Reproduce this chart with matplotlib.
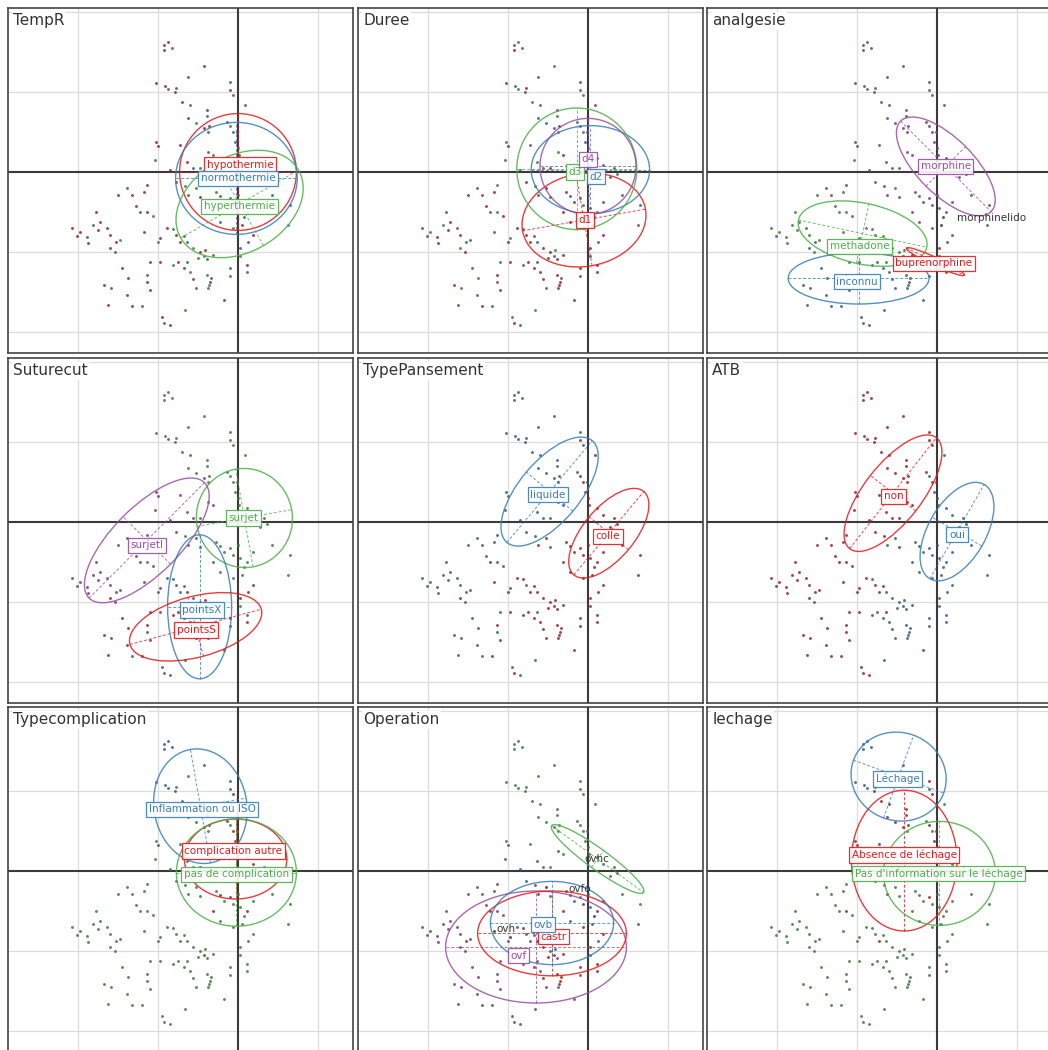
import numpy as np
import matplotlib
matplotlib.use("Agg")
import matplotlib.pyplot as plt
from matplotlib.patches import Ellipse

# Individuals on the first factorial plane (same cloud in every panel), grouped in clumps
clump_x = [
    [-0.93, -0.87, -0.83, -0.93],
    [-0.43, -0.62],
    [-1.02, -0.91, -0.87, -0.79, -0.77],
    [-0.10, -0.10, -0.06],
    [-0.70, -0.60, -0.62],
    [-0.39, -0.39, -0.52, -0.43, -0.38, -0.36],
    [-0.14, -0.10, -0.06, -0.01, 0.09],
    [-1.02, -1.00, -1.04],
    [-0.72, -0.37, -0.31],
    [-0.04, 0.00, 0.01],
    [-0.64, -0.56, -0.48, -0.85],
    [0.11, 0.19, 0.32, 0.36, 0.28],
    [-0.77, -0.66, -0.62, -0.48, -0.52],
    [-1.14, -1.18, -1.39, -1.33, -1.50],
    [-1.27, -1.23, -1.14, -1.06, -1.18],
    [-1.77, -1.73, -1.81, -1.64, -1.75],
    [-1.98, -1.89, -2.01, -2.08, -1.87],
    [-1.60, -1.52, -1.48, -1.60, -1.54],
    [-0.27, -0.23, -0.18, -0.10, -0.06, 0.03, 0.11, 0.19, 0.00, 0.07],
    [-0.31, -0.23, -0.06, 0.05],
    [0.65, 0.62, 0.42],
    [-0.89, -0.81, -0.77, -0.68, -0.64, -0.72],
    [-0.97, -1.00],
    [-0.56, -0.48, -0.43, -0.39, -0.31, -0.41, -0.50],
    [0.03, 0.03, 0.19, 0.13],
    [-1.10, -0.97, -0.81, -0.68, -0.64, -0.75],
    [-0.60, -0.56, -0.52],
    [-0.39, -0.35, -0.37, -0.34, -0.36],
    [-0.10, -0.10, 0.11, 0.11],
    [-1.45, -1.37, -1.14, -1.14],
    [-1.68, -1.59, -1.39, -1.10],
    [-1.62, -1.33, -1.20, -0.66, -0.18],
    [-0.95, -0.93, -0.85],
]
clump_y = [
    [1.59, 1.63, 1.55, 1.53],
    [1.32, 1.19],
    [1.11, 1.08, 1.04, 1.00, 1.05],
    [1.13, 1.03, 0.96],
    [0.88, 0.84, 0.67],
    [0.78, 0.70, 0.61, 0.55, 0.50, 0.57],
    [0.63, 0.57, 0.50, 0.50, 0.84],
    [0.38, 0.32, 0.15],
    [0.34, 0.25, 0.21],
    [0.38, 0.30, 0.21],
    [0.13, 0.05, 0.05, 0.03],
    [0.17, 0.09, 0.05, -0.02, -0.06],
    [-0.12, -0.17, -0.29, -0.31, -0.20],
    [-0.16, -0.25, -0.20, -0.29, -0.29],
    [-0.43, -0.50, -0.50, -0.55, -0.75],
    [-0.50, -0.62, -0.66, -0.70, -0.73],
    [-0.75, -0.81, -0.80, -0.70, -0.89],
    [-0.79, -0.87, -0.85, -0.95, -1.00],
    [-0.25, -0.30, -0.37, -0.33, -0.41, -0.45, -0.50, -0.37, -0.29, -0.56],
    [-0.50, -0.62, -0.70, -0.66],
    [-0.41, -0.66, -0.29],
    [-0.70, -0.71, -0.79, -0.80, -0.87, -0.87],
    [-0.83, -0.88],
    [-0.95, -1.00, -1.05, -1.09, -1.04, -0.97, -1.08],
    [-0.95, -1.05, -0.79, -0.87],
    [-1.12, -1.12, -1.16, -1.20, -1.12, -1.12],
    [-1.25, -1.34, -1.45],
    [-1.29, -1.37, -1.45, -1.32, -1.41],
    [-1.20, -1.30, -1.16, -1.25],
    [-1.20, -1.33, -1.29, -1.37],
    [-1.41, -1.45, -1.54, -1.48],
    [-1.66, -1.68, -1.68, -1.73, -1.60],
    [-1.81, -1.89, -1.91],
]

RED, BLUE, GREEN, PURPLE, DARK = "#E41A1C", "#377EB8", "#4DAF4A", "#984EA3", "#333333"

# One panel per qualitative variable: levels, colours, group membership of every individual,
# ellipse (centre x, centre y, half-width, half-height, angle) and label position.
panels = [
    dict(name="TempR",
         levels=["hypothermie", "normothermie", "hyperthermie"],
         colors=[RED, BLUE, GREEN],
         groups="aaba ab aabab bab aba abcaba bcbab aab abc bca abca bcbac acbac aabaa abaca aabaa "
                "abaaa aacab cbacbcabcb cbca bcb acacba ac cacbcac bcab aacaba cab cacbc bcab aaba abaa aabca aba",
         ell_cx=[0.00, -0.02, 0.02], ell_cy=[0.00, -0.08, -0.40],
         ell_w=[0.73, 0.76, 0.85], ell_h=[0.73, 0.70, 0.60], ell_a=[0, 0, 30],
         lab_x=[0.03, 0.00, 0.02], lab_y=[0.09, -0.08, -0.43], boxed=[True, True, True]),
    dict(name="Duree",
         levels=["d1", "d2", "d3", "d4"],
         colors=[RED, BLUE, GREEN, PURPLE],
         groups="bcda cd abcda dbc cdb dcbdca bdcbd cab dca bdc cdab bdbcb acdba cabda adcab bacda "
                "cadba abdca abadcabdba aaba bdb acadba ca aabaaca abad cadaba aab aaaba abaa bcad acba dabca cab",
         ell_cx=[-0.05, 0.03, -0.14, 0.00], ell_cy=[-0.60, 0.03, 0.04, 0.07],
         ell_w=[0.78, 0.74, 0.75, 0.60], ell_h=[0.58, 0.55, 0.76, 0.60], ell_a=[10, 0, 0, 0],
         lab_x=[-0.04, 0.10, -0.16, 0.00], lab_y=[-0.60, -0.06, 0.00, 0.16], boxed=[True, True, True, True]),
    dict(name="analgesie",
         levels=["morphine", "methadone", "inconnu", "buprenorphine", "morphinelido"],
         colors=[PURPLE, GREEN, BLUE, RED, DARK],
         groups="aaaa aa aabaa aaa aaa aaaaaa aaaaa aab aaa aaa aaaa aaaaa aaaab abaab bbbab bbbcb "
                "bbcbb bcbcb aaaaaaaaae aaae aaa bbbbbd bb bbdbdbb ddaa ccccbc ccc cccdc dcdd cccc cccc ccccc ccc",
         ell_cx=[0.11, -0.93, -0.98, -0.02, None], ell_cy=[0.07, -0.77, -1.33, -1.12, None],
         ell_w=[0.80, 0.82, 0.88, 0.40, None], ell_h=[0.35, 0.38, 0.32, 0.05, None],
         ell_a=[-45, -12, 0, -25, None],
         lab_x=[0.11, -0.97, -1.00, -0.04, 0.68], lab_y=[0.07, -0.93, -1.37, -1.14, -0.58],
         boxed=[True, True, True, True, False]),
    dict(name="Suturecut",
         levels=["surjet", "surjetI", "pointsX", "pointsS"],
         colors=[GREEN, PURPLE, BLUE, RED],
         groups="aaaa aa aabaa aaa aba aaabaa aaaaa bbb bab aaa bbab aaaaa babbc bbbbb bbabb bbbbb "
                "bbbbb bbbdb aaaaaaaaaa caaa aaa ccbcdc bc cdcdcdc dadd dcdddd ccd cdccd ddcd dddb dcdb dcdcc ccc",
         ell_cx=[0.08, -1.14, -0.48, -0.53], ell_cy=[0.05, -0.23, -1.06, -1.31],
         ell_w=[0.60, 1.02, 0.40, 0.85], ell_h=[0.62, 0.42, 0.90, 0.38], ell_a=[10, 45, 0, 15],
         lab_x=[0.07, -1.14, -0.45, -0.52], lab_y=[0.05, -0.29, -1.10, -1.35], boxed=[True] * 4),
    dict(name="TypePansement",
         levels=["liquide", "colle"],
         colors=[BLUE, RED],
         groups="aaaa aa aaaaa aba aaa aaaaaa abbab aaa aaa bbb aaaa bbbbb aabab aaaaa abaab aaaaa "
                "aaaaa aaaba bbbbbbbbbb bbbb bbb bbabbb ab bbbbbbb bbbb abbbab bbb bbbbb bbbb aaba aaab aabab aba",
         ell_cx=[-0.48, 0.26], ell_cy=[0.38, -0.14], ell_w=[0.83, 0.68], ell_h=[0.38, 0.32],
         ell_a=[50, 50], lab_x=[-0.50, 0.25], lab_y=[0.34, -0.18], boxed=[True, True]),
    dict(name="ATB",
         levels=["non", "oui"],
         colors=[RED, BLUE],
         groups="aaaa aa aaaaa aaa aaa aaaaaa abaab aaa aaa bbb aaaa bbbbb aabab aaaaa aaaaa aaaaa "
                "aaaaa aaaab bbbbbbbbbb bbbb bbb abaaba aa bbbbbbb bbbb aabbab bbb bbbbb bbbb aaaa aaaa aaaba aaa",
         ell_cx=[-0.55, 0.25], ell_cy=[0.36, -0.12], ell_w=[0.88, 0.68], ell_h=[0.36, 0.36],
         ell_a=[52, 60], lab_x=[-0.54, 0.25], lab_y=[0.32, -0.16], boxed=[True, True]),
    dict(name="Typecomplication",
         levels=["Inflammation ou ISO", "complication autre", "pas de complication"],
         colors=[BLUE, RED, GREEN],
         groups="aaaa ac aaaac aab cac cbcacb bcbcb cac cbc bcb ccbc cbcbc ccccc ccccc ccccc ccccc "
                "ccccc ccccc cbcbccbccc bccc ccc cccccc cc ccbcccc cccc cccccc ccc ccccc cccc cccc cccc ccccc ccc",
         ell_cx=[-0.47, -0.03, -0.02], ell_cy=[0.81, 0.15, -0.02], ell_w=[0.58, 0.64, 0.75],
         ell_h=[0.72, 0.50, 0.67], ell_a=[10, 0, 0],
         lab_x=[-0.45, -0.06, -0.02], lab_y=[0.77, 0.25, -0.04], boxed=[True, True, True]),
    dict(name="Operation",
         levels=["ovhc", "ovfo", "ovf", "castr", "ovb", "ovh"],
         colors=[GREEN, DARK, PURPLE, RED, BLUE, DARK],
         groups="aaaa aa aaaaa aaa aaa aaaaaa aaaaa ace aea aaa ceae aaaaa ecdcb ccecc cdccf ccccc "
                "ccccc cdccc edeadedeeb dede aea cdecdc fc dedcded dede cdcdcc cdc ddedd dedd cccc cccc ccccc ccc",
         ell_cx=[0.12, None, -0.65, -0.45, -0.45, None], ell_cy=[0.15, None, -0.95, -0.78, -0.65, None],
         ell_w=[0.71, None, 1.13, 0.93, 0.77, None], ell_h=[0.13, None, 0.70, 0.53, 0.52, None],
         ell_a=[-36, None, 0, 0, 0, None],
         lab_x=[0.11, -0.10, -0.87, -0.43, -0.56, -1.02], lab_y=[0.15, -0.23, -1.06, -0.82, -0.67, -0.73],
         boxed=[False, False, True, True, True, False]),
    dict(name="lechage",
         levels=["Léchage", "Absence de léchage", "Pas d'information sur le léchage"],
         colors=[BLUE, RED, GREEN],
         groups="aaaa ab aaaba bab bbb bbbbcb cbcbc bbc bbc bcb bbcb ccccc bcbcc ccccc ccbcc ccccc "
                "ccccc ccccc cccbcccccc cccc ccc cccccb cc ccccccc cccc cccccc ccc ccccc cccc cccc cccc ccccc ccc",
         ell_cx=[-0.48, -0.41, 0.03], ell_cy=[1.18, 0.13, -0.03], ell_w=[0.60, 0.66, 0.70],
         ell_h=[0.55, 0.88, 0.65], ell_a=[-20, 0, 0],
         lab_x=[-0.49, -0.41, 0.02], lab_y=[1.15, 0.20, -0.03], boxed=[True, True, True]),
]

px = np.concatenate([np.array(c) for c in clump_x])
py = np.concatenate([np.array(c) for c in clump_y])

W, H = 1048, 1050
fig = plt.figure(figsize=(W / 100, H / 100), dpi=100)
fig.patch.set_facecolor("white")

box = 345          # panel size in pixels
lefts = [8, 358, 707]
tops = [8, 358, 707]
unit = 80.0        # pixels per unit of the factorial plane
xlim = (-230 / unit, (box - 230) / unit)
ylim = (-(box - 164) / unit, 164 / unit)


def darken(c, f=0.55):
    r, g, b = matplotlib.colors.to_rgb(c)
    return (r * f + 0.2 * (1 - f), g * f + 0.2 * (1 - f), b * f + 0.2 * (1 - f))


for k, p in enumerate(panels):
    row, col = divmod(k, 3)
    ax = fig.add_axes([lefts[col] / W, 1 - (tops[row] + box) / H, box / W, box / H])
    ax.set_xlim(*xlim)
    ax.set_ylim(*ylim)
    ax.set_xticks([])
    ax.set_yticks([])
    for s in ax.spines.values():
        s.set_color("#444444")
        s.set_linewidth(1.2)

    for g in range(-2, 2):
        if g != 0:
            ax.axvline(g, color="#dcdcdc", lw=0.9, zorder=0)
    for g in range(-2, 3):
        if g != 0:
            ax.axhline(g, color="#dcdcdc", lw=0.9, zorder=0)
    ax.axvline(0, color="#3a3a3a", lw=1.5, zorder=1)
    ax.axhline(0, color="#3a3a3a", lw=1.5, zorder=1)

    codes = p["groups"].replace(" ", "")
    grp = np.array([ord(ch) - ord("a") for ch in codes])
    for gi, colr in enumerate(p["colors"]):
        m = grp == gi
        if m.any():
            ax.plot(px[m], py[m], ls="none", marker="o", ms=2.1, mew=0,
                    color=darken(colr), alpha=0.85, zorder=2)

    for gi, colr in enumerate(p["colors"]):
        cx = p["ell_cx"][gi]
        if cx is None:
            continue
        cy, w, h, a = p["ell_cy"][gi], p["ell_w"][gi], p["ell_h"][gi], p["ell_a"][gi]
        ax.add_patch(Ellipse((cx, cy), 2 * w, 2 * h, angle=a, fill=False,
                             ec=colr, lw=1.0, alpha=0.85, zorder=3))
        t = np.deg2rad(a)
        ux, uy = np.cos(t), np.sin(t)
        ax.plot([cx - w * ux, cx + w * ux], [cy - w * uy, cy + w * uy],
                ls=(0, (3, 2)), color=colr, lw=0.7, alpha=0.8, zorder=3)
        ax.plot([cx + h * uy, cx - h * uy], [cy - h * ux, cy + h * ux],
                ls=(0, (3, 2)), color=colr, lw=0.7, alpha=0.8, zorder=3)

    for gi, (lev, colr) in enumerate(zip(p["levels"], p["colors"])):
        if p["boxed"][gi]:
            ax.text(p["lab_x"][gi], p["lab_y"][gi], lev, color=colr, fontsize=7.5,
                    ha="center", va="center", zorder=5,
                    bbox=dict(boxstyle="square,pad=0.25", fc="white", ec=colr, lw=0.9, alpha=0.9))
        else:
            ax.text(p["lab_x"][gi], p["lab_y"][gi], lev, color=DARK, fontsize=7.5,
                    ha="center", va="center", zorder=5)

    ax.text(0.015, 0.985, p["name"], transform=ax.transAxes, ha="left", va="top",
            fontsize=11, color="#333333", zorder=6,
            bbox=dict(boxstyle="square,pad=0.1", fc="white", ec="none"))

fig.savefig("out.png", dpi=100, facecolor="white")
